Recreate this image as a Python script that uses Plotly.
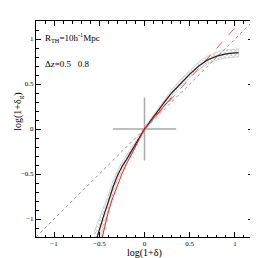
import plotly.graph_objects as go

# black mean relation
bx = [-0.56, -0.54, -0.5, -0.45, -0.4, -0.35, -0.3, -0.25, -0.2, -0.15, -0.1, -0.05, 0.0,
      0.05, 0.1, 0.15, 0.2, 0.3, 0.4, 0.5, 0.6, 0.7, 0.8, 0.9, 1.0, 1.04]
by = [-1.32, -1.25, -1.12, -0.96, -0.81, -0.65, -0.52, -0.42, -0.34, -0.26, -0.175, -0.085, 0.0,
      0.07, 0.14, 0.205, 0.27, 0.40, 0.51, 0.61, 0.70, 0.77, 0.81, 0.835, 0.845, 0.846]
berr = [0.17, 0.15, 0.13, 0.10, 0.08, 0.07, 0.06, 0.05, 0.045, 0.04, 0.03, 0.025, 0.02,
        0.02, 0.025, 0.03, 0.03, 0.035, 0.04, 0.04, 0.045, 0.045, 0.045, 0.045, 0.045, 0.045]

# red model curve
rx = [-0.49, -0.47, -0.45, -0.4, -0.35, -0.3, -0.25, -0.2, -0.15, -0.1, -0.05, 0.0, 0.1, 0.2, 0.3]
ry = [-1.3, -1.22, -1.12, -0.92, -0.76, -0.62, -0.50, -0.39, -0.29, -0.19, -0.095, 0.0, 0.12, 0.24, 0.35]

# red dashed linear bias
lx = [0.0, 1.05]
ly = [0.0, 1.18]

# diagonal y = x
dx = [-1.2, 1.2]
dy = [-1.2, 1.2]

# cross
cx_h = [-0.35, 0.35]
cy_h = [0.0, 0.0]
cx_v = [0.0, 0.0]
cy_v = [-0.35, 0.35]

fig = go.Figure()
fig.add_trace(go.Scatter(x=dx, y=dy, mode="lines",
                         line=dict(color="#777777", width=0.8, dash="dot")))
up = [y + e for y, e in zip(by, berr)]
lo = [y - e for y, e in zip(by, berr)]
fig.add_trace(go.Scatter(x=bx + bx[::-1], y=up + lo[::-1], mode="lines",
                         line=dict(color="rgba(120,120,120,0.5)", width=0.5),
                         fill="toself", fillcolor="rgba(0,0,0,0)",
                         fillpattern=dict(shape="x", fgcolor="#777777", bgcolor="rgba(0,0,0,0)",
                                          size=3, solidity=0.4)))
fig.add_trace(go.Scatter(x=cx_h, y=cy_h, mode="lines", line=dict(color="#aaaaaa", width=1.5)))
fig.add_trace(go.Scatter(x=cx_v, y=cy_v, mode="lines", line=dict(color="#aaaaaa", width=1.5)))
fig.add_trace(go.Scatter(x=lx, y=ly, mode="lines",
                         line=dict(color="#ff4444", width=0.9, dash="dash")))
fig.add_trace(go.Scatter(x=bx, y=by, mode="lines", line=dict(color="#222222", width=1.2)))
fig.add_trace(go.Scatter(x=rx, y=ry, mode="lines", line=dict(color="#ff2020", width=1.0)))

font = "Liberation Serif"
axis_common = dict(range=[-1.2, 1.2], dtick=0.5, tick0=0, ticks="inside", ticklen=5,
                   tickwidth=0.8, tickcolor="black", showline=True, linecolor="black",
                   linewidth=1, mirror="ticks", showgrid=False, zeroline=False,
                   tickfont=dict(family=font, size=7, color="black"),
                   minor=dict(dtick=0.1, ticks="inside", ticklen=2.5, tickcolor="black",
                              tickwidth=0.7, showgrid=False))
fig.update_layout(
    width=258, height=258,
    margin=dict(l=28, r=13, t=13, b=29),
    paper_bgcolor="white", plot_bgcolor="white",
    showlegend=False,
    xaxis=dict(**axis_common),
    yaxis=dict(**axis_common),
    font=dict(family=font, color="black"),
    annotations=[
        dict(x=0.03, y=0.925, xref="paper", yref="paper", xanchor="left", yanchor="middle",
             text="R<sub>TH</sub>=10h<sup>-1</sup>Mpc", showarrow=False,
             font=dict(family=font, size=9, color="black")),
        dict(x=0.03, y=0.80, xref="paper", yref="paper", xanchor="left", yanchor="middle",
             text="Δz=0.5   0.8", showarrow=False, font=dict(family=font, size=9, color="black")),
        dict(x=0.5, y=-0.075, xref="paper", yref="paper", xanchor="center", yanchor="middle",
             text="log(1+δ)", showarrow=False, font=dict(family=font, size=10, color="black")),
        dict(x=-0.078, y=0.58, xref="paper", yref="paper", xanchor="center", yanchor="middle",
             text="log(1+δ<sub>g</sub>)", textangle=-90, showarrow=False,
             font=dict(family=font, size=10, color="black")),
    ],
)
fig.write_html("out.html")
